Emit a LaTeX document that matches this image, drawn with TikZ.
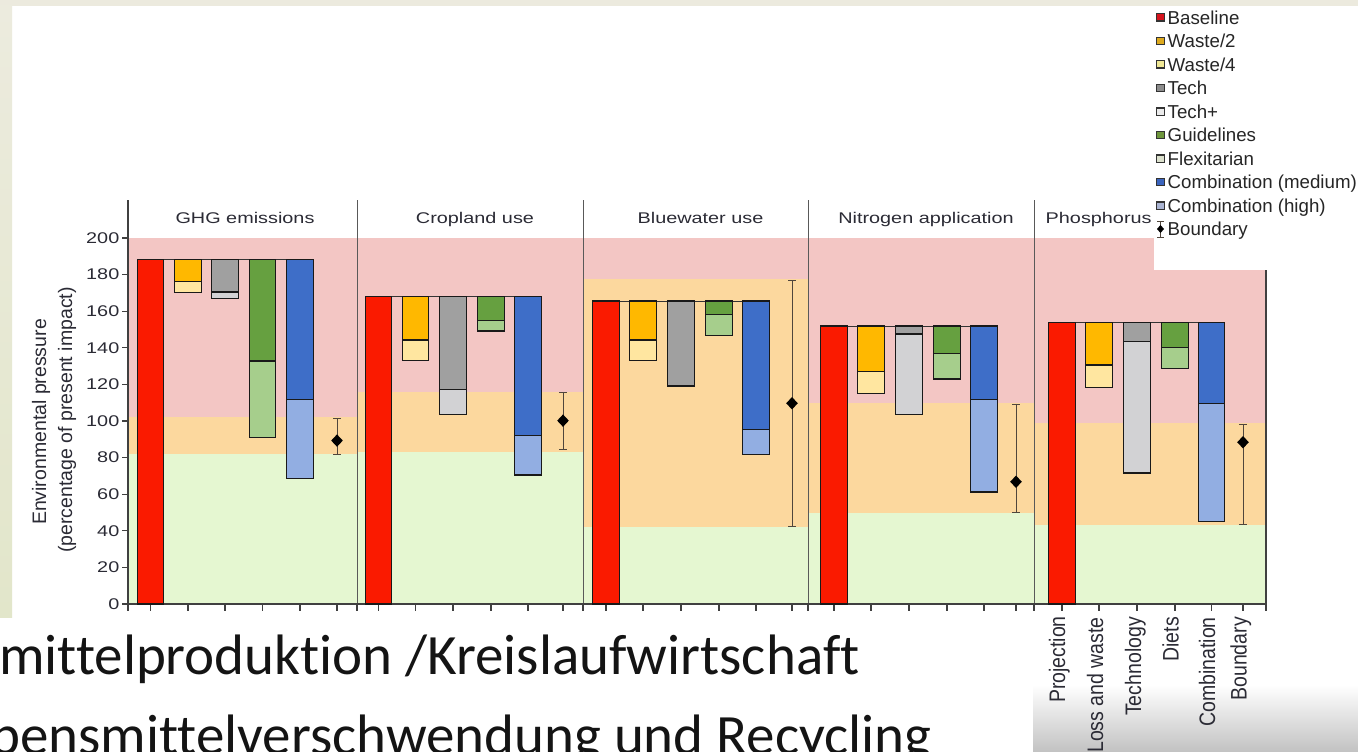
\documentclass[tikz,border=0pt]{standalone}
\usepackage{fontspec}
\usepackage{graphicx}
\setmainfont{Liberation Sans}
\newfontfamily\slidefont[Ligatures={NoCommon}]{Carlito}
\usetikzlibrary{shapes.geometric}

% slide frame
\definecolor{slidetop}{RGB}{236,234,222}
\definecolor{slideleftA}{RGB}{236,235,222}
\definecolor{slideleftB}{RGB}{226,230,202}
% background zones
\definecolor{pinkband}{RGB}{243,198,196}
\definecolor{orangeband}{RGB}{252,216,158}
\definecolor{greenband}{RGB}{229,247,209}
% bar fills
\definecolor{barred}{RGB}{250,26,0}
\definecolor{wastedark}{RGB}{255,184,0}
\definecolor{wastelight}{RGB}{255,230,160}
\definecolor{techdark}{RGB}{160,160,160}
\definecolor{techlight}{RGB}{210,210,212}
\definecolor{guidedark}{RGB}{102,160,64}
\definecolor{guidelight}{RGB}{166,206,140}
\definecolor{combdark}{RGB}{62,110,200}
\definecolor{comblight}{RGB}{146,174,226}
% legend swatches
\definecolor{legbase}{RGB}{214,20,30}
\definecolor{legwasteA}{RGB}{222,170,30}
\definecolor{legwasteB}{RGB}{240,232,150}
\definecolor{legtechA}{RGB}{140,140,140}
\definecolor{legtechB}{RGB}{235,235,235}
\definecolor{legguideA}{RGB}{110,150,60}
\definecolor{legguideB}{RGB}{220,225,205}
\definecolor{legcombA}{RGB}{58,100,190}
\definecolor{legcombB}{RGB}{170,180,210}
% ink
\definecolor{chartink}{RGB}{43,43,53}
\definecolor{errink}{RGB}{80,70,60}

% value (percentage) -> vertical position
\pgfmathdeclarefunction{vy}{1}{\pgfmathparse{604-1.83*#1}}

\newcommand\widetext[1]{\scalebox{1.28}[1]{#1}}
\newcommand\tallrot[1]{\scalebox{1}[1.15]{#1}}

\tikzset{
  barline/.style={draw=black!90, line width=1.2pt},
  axisline/.style={draw=black!75, line width=1.2pt},
  divline/.style={draw=black!65, line width=1pt},
  errline/.style={draw=errink, line width=0.9pt},
  topline/.style={draw=black!80, line width=0.9pt},
  ticklabel/.style={inner sep=0pt, text=chartink, font=\fontsize{15.5}{18}\selectfont},
  paneltitle/.style={inner sep=0pt, text=chartink, font=\fontsize{15.5}{18}\selectfont},
  axistitle/.style={inner sep=0pt, text=chartink, font=\fontsize{19.5}{22}\selectfont, rotate=90},
  catlabel/.style={inner sep=0pt, text=chartink, font=\fontsize{19.5}{22}\selectfont, rotate=90, anchor=base east},
  legtext/.style={inner sep=0pt, text=black!85, font=\fontsize{18.7}{22}\selectfont},
  legbox/.style={draw=black!80, line width=1.2pt},
  slidetext/.style={inner sep=0pt, text=black!92, font=\slidefont\fontsize{57}{60}\selectfont},
}

% zones of one panel: left, right, pink/orange limit, orange/green limit
\newcommand\panelzones[4]{%
  \fill[pinkband] (#1,{vy(200)}) rectangle (#2,{vy(#3)});
  \fill[orangeband] (#1,{vy(#3)}) rectangle (#2,{vy(#4)});
  \fill[greenband] (#1,{vy(#4)}) rectangle (#2,604);
}
% two-part hanging bar: centre, top, split, bottom, upper colour, lower colour
\newcommand\hangbar[6]{%
  \filldraw[barline, fill=#5] (#1-13.2,{vy(#2)}) rectangle (#1+13.2,{vy(#3)});
  \filldraw[barline, fill=#6] (#1-13.2,{vy(#3)}) rectangle (#1+13.2,{vy(#4)});
}
% one-part bar: centre, top, bottom, colour
\newcommand\plainbar[4]{%
  \filldraw[barline, fill=#4] (#1-13.2,{vy(#2)}) rectangle (#1+13.2,{vy(#3)});
}
% boundary range with its marker: x, upper, marker, lower
\newcommand\boundmark[4]{%
  \draw[errline] (#1-4,{vy(#2)}) -- (#1+4,{vy(#2)})
                 (#1,{vy(#2)}) -- (#1,{vy(#4)})
                 (#1-4,{vy(#4)}) -- (#1+4,{vy(#4)});
  \fill[black] (#1-5.8,{vy(#3)}) -- (#1,{vy(#3)-6.2}) -- (#1+5.8,{vy(#3)}) -- (#1,{vy(#3)+6.2}) -- cycle;
}
% full scenario set of a panel
% #1..#6 centres; #7 baseline; #8,#9 waste
\newcommand\scenarioset[9]{%
  \def\cA{#1}\def\cB{#2}\def\cC{#3}\def\cD{#4}\def\cE{#5}\def\cF{#6}%
  \def\vBase{#7}\def\vWa{#8}\def\vWb{#9}%
  \scenariosetrest
}
\newcommand\scenariosetrest[8]{%
  % #1,#2 tech; #3,#4 guidelines; #5,#6 combination; #7 boundary upper, #8 marker
  \draw[topline] (\cA-13.2,{vy(\vBase)}) -- (\cE+13.2,{vy(\vBase)});
  \plainbar{\cA}{\vBase}{0}{barred}
  \hangbar{\cB}{\vBase}{\vWa}{\vWb}{wastedark}{wastelight}
  \hangbar{\cC}{\vBase}{#1}{#2}{techdark}{techlight}
  \hangbar{\cD}{\vBase}{#3}{#4}{guidedark}{guidelight}
  \hangbar{\cE}{\vBase}{#5}{#6}{combdark}{comblight}
  \def\vBu{#7}\def\vBm{#8}%
}

\newcommand\legenditem[4]{%
  \pgfmathsetmacro\legy{17.5+23.5*#1}
  \filldraw[legbox, fill=#2] (1156.5,\legy-3.6) rectangle (1164.5,\legy+3.6);
  \node[legtext, anchor=base west] (#3) at (1167.5,\legy+6.6) {#4};
}

\begin{document}
\begin{tikzpicture}[x=1pt,y=-1pt]
\useasboundingbox (0,0) rectangle (1358,752);
\clip (0,0) rectangle (1358,752);

% page and slide frame
\fill[white] (0,0) rectangle (1358,752);
\fill[slidetop] (0,0) rectangle (1358,6);
\shade[top color=slideleftA, bottom color=slideleftB] (0,6) rectangle (12,617);
\shade[top color=white, bottom color=black!24] (1033,685) rectangle (1358,752);

% zones behind the bars
\panelzones{128}{357}{102}{82}
\panelzones{357}{583}{116}{83}
\panelzones{583}{808}{177.5}{42.2}
\panelzones{808}{1034}{110}{50}
\panelzones{1034}{1266}{99}{43}

% legend panel
\fill[white] (1154,6) rectangle (1358,270);

% axes, panel separators and ticks
\foreach \x in {357,583,808,1034}
  \draw[divline] (\x,200) -- (\x,604);
\draw[axisline] (128,200) -- (128,604) -- (1266,604) -- (1266,270);
\foreach \v in {0,20,...,200}{
  \draw[axisline] (122,{vy(\v)}) -- (128,{vy(\v)});
  \node[ticklabel, anchor=east] (ylab\v) at (119.5,{vy(\v)}) {\widetext{\v}};
}
\foreach \x in {128,150.5,188,225,262.5,300,337,
                357,378.5,415.5,453,491,528,563,
                583,606,643,681,719,756,792,
                808,834,871,909,947,984,1016,
                1034,1062,1099,1137,1175,1211.5,1243,1266}
  \draw[axisline] (\x,604) -- (\x,611);

% GHG emissions
\scenarioset{150.5}{188}{225}{262.5}{300}{337}{188.3}{176.2}{170.3}{170.5}{167}{132.8}{90.9}{111.8}{68.7}{101.3}{89.3}
\boundmark{337}{101.3}{89.3}{81.8}
% Cropland use
\scenarioset{378.5}{415.5}{453}{491}{528}{563}{167.9}{144.3}{133}{117.3}{103.6}{154.8}{149.2}{92.2}{70.5}{115.8}{100.2}
\boundmark{563}{115.8}{100.2}{84.2}
% Bluewater use
\scenarioset{606}{643}{681}{719}{756}{792}{165.6}{144.3}{133}{119.1}{119.1}{158.3}{146.6}{95.4}{81.8}{177}{109.7}
\boundmark{792}{177}{109.7}{42.6}
% Nitrogen application
\scenarioset{834}{871}{909}{947}{984}{1016}{151.9}{126.9}{115.1}{147.5}{103.6}{137}{123}{111.7}{61.2}{109.3}{66.8}
\boundmark{1016}{109.3}{66.8}{50.3}
% Phosphorus
\scenarioset{1062}{1099}{1137}{1175}{1211.5}{1243}{153.7}{130.6}{118.4}{143.3}{71.6}{140.3}{128.8}{109.5}{45}{98}{88.4}
\boundmark{1243}{98}{88.4}{43.5}

% panel titles
\node[paneltitle, anchor=base] (tghg) at (245,223) {\widetext{GHG emissions}};
\node[paneltitle, anchor=base] (tcrop) at (475,223) {\widetext{Cropland use}};
\node[paneltitle, anchor=base] (tblue) at (700.5,223) {\widetext{Bluewater use}};
\node[paneltitle, anchor=base] (tnitro) at (926,223) {\widetext{Nitrogen application}};
\node[paneltitle, anchor=base west] (tphos) at (1045.5,223) {\widetext{Phosphorus}};

% vertical axis title
\node[axistitle] (ytitleA) at (41,422) {Environmental pressure};
\node[axistitle] (ytitleB) at (67,420) {(percentage of present impact)};

% category labels under the last panel
\node[catlabel] (catA) at (1065,616) {\tallrot{Projection}};
\node[catlabel] (catB) at (1103,617) {\tallrot{Loss and waste}};
\node[catlabel] (catC) at (1141,617) {\tallrot{Technology}};
\node[catlabel] (catD) at (1178.5,617) {\tallrot{Diets}};
\node[catlabel] (catE) at (1215,617) {\tallrot{Combination}};
\node[catlabel] (catF) at (1246.5,617) {\tallrot{Boundary}};

% legend
\legenditem{0}{legbase}{lgA}{Baseline}
\legenditem{1}{legwasteA}{lgB}{Waste/2}
\legenditem{2}{legwasteB}{lgC}{Waste/4}
\legenditem{3}{legtechA}{lgD}{Tech}
\legenditem{4}{legtechB}{lgE}{Tech+}
\legenditem{5}{legguideA}{lgF}{Guidelines}
\legenditem{6}{legguideB}{lgG}{Flexitarian}
\legenditem{7}{legcombA}{lgH}{Combination (medium)}
\legenditem{8}{legcombB}{lgI}{Combination (high)}
\draw[errline] (1157,221.5) -- (1164,221.5) (1160.5,221.5) -- (1160.5,237) (1157,237) -- (1164,237);
\fill[black] (1157,229) -- (1160.5,225) -- (1164,229) -- (1160.5,233) -- cycle;
\node[legtext, anchor=base west] (lgJ) at (1167.5,235.6) {Boundary};

% slide text lines
\node[slidetext, anchor=base west] (lineA) at (-1,674.5) {mittelproduktion /Kreislaufwirtschaft};
\node[slidetext, anchor=base west] (lineB) at (-10,754) {bensmittelverschwendung und Recycling};
\end{tikzpicture}
\end{document}
